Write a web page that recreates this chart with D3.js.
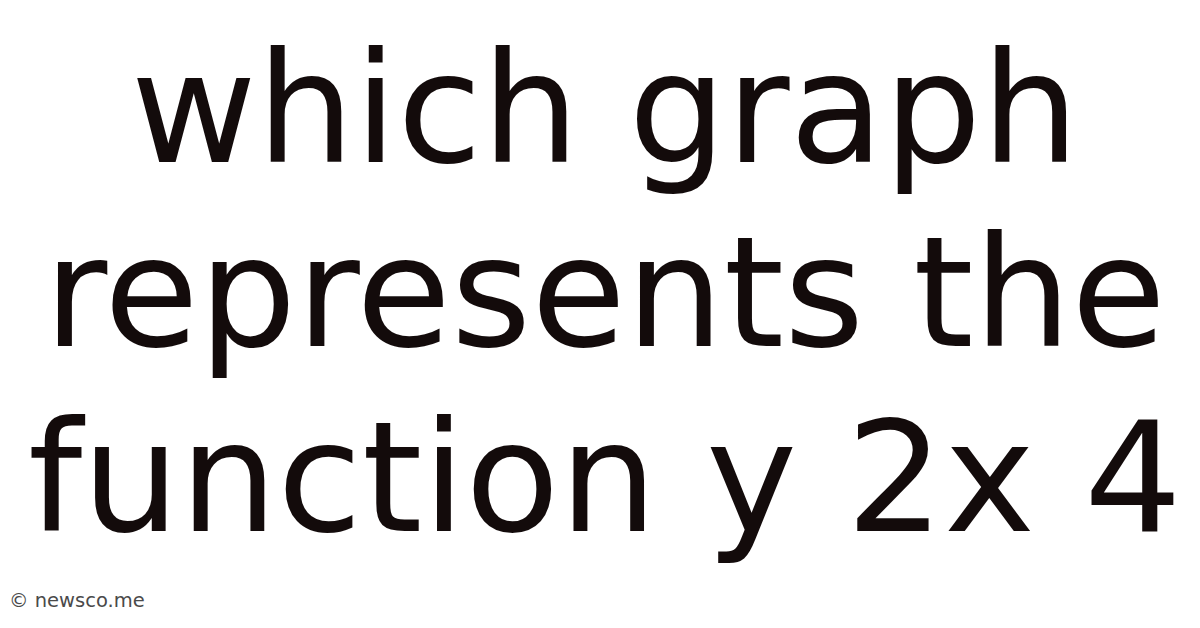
<!DOCTYPE html>
<html>
<head>
<meta charset="utf-8">
<script src="https://cdn.jsdelivr.net/npm/d3@7"></script>
<style>
  html, body { margin: 0; padding: 0; background: #fff; }
  svg { display: block; }
</style>
</head>
<body>
<svg id="chart" width="1200" height="628"></svg>
<script>
// Title lines and their baselines
const titleLines = ["which graph", "represents the", "function y 2x 4"];
const baselines = [162, 346, 531];
const watermark = "© newsco.me";

const svg = d3.select('#chart');

svg.append('rect')
    .attr('width', 1200)
    .attr('height', 628)
    .attr('fill', '#ffffff');

const y = d3.scaleOrdinal()
    .domain(titleLines)
    .range(baselines);

svg.selectAll('.title-line')
    .data(titleLines)
    .enter().append('text')
    .classed('title-line', true)
    .attr('x', 605)
    .attr('y', d => y(d))
    .attr('text-anchor', 'middle')
    .attr('font-family', 'DejaVu Sans')
    .attr('font-size', 154)
    .attr('fill', '#130b0b')
    .text(d => d);

svg.append('text')
    .attr('x', 9)
    .attr('y', 607)
    .attr('font-family', 'DejaVu Sans')
    .attr('font-size', 19.5)
    .attr('fill', '#4a4a4a')
    .text(watermark);
</script>
</body>
</html>
